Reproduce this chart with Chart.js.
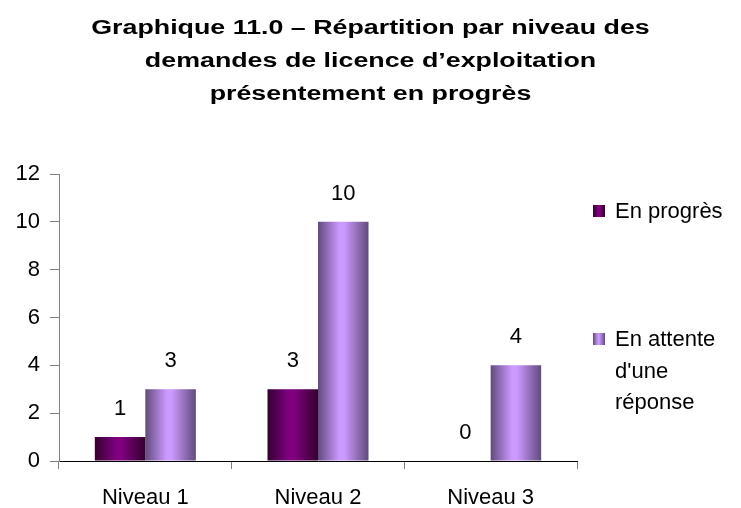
<!DOCTYPE html>
<html>
<head>
<meta charset="utf-8">
<script src="https://cdn.jsdelivr.net/npm/chart.js@4"></script>
<style>
  html, body { margin: 0; padding: 0; background: #fff; }
  #chart { display: block; }
</style>
</head>
<body>
<canvas id="chart" width="741" height="508"></canvas>
<script>
// data
const categories = ["Niveau 1", "Niveau 2", "Niveau 3"];
const enProgres = [1, 3, 0];
const enAttente = [3, 10, 4];
const seriesNames = ["En progrès", "En attente d'une réponse"];
const legendLines = [["En progrès"], ["En attente", "d'une", "réponse"]];
const titleLines = [
  "Graphique 11.0 – Répartition par niveau des",
  "demandes de licence d’exploitation",
  "présentement en progrès"
];

const FONT = "'Liberation Sans', Arial, sans-serif";

// edge / middle colours for the shaded bars
const shades = [
  { edge: "#34002f", mid: "#800080" },
  { edge: "#614a7c", mid: "#cc99ff" }
];

function barGradient(ctx, left, right, s) {
  const g = ctx.createLinearGradient(left, 0, right, 0);
  g.addColorStop(0, s.edge);
  g.addColorStop(0.42, s.mid);
  g.addColorStop(0.52, s.mid);
  g.addColorStop(1, s.edge);
  return g;
}

// shade every bar with a horizontal gradient
const shadePlugin = {
  id: "shade",
  beforeDatasetDraw(chart, args) {
    const ctx = chart.ctx;
    const s = shades[args.index];
    args.meta.data.forEach((bar) => {
      const left = bar.x - bar.width / 2;
      const right = bar.x + bar.width / 2;
      bar.options = Object.assign({}, bar.options, {
        backgroundColor: barGradient(ctx, left, right, s)
      });
    });
  }
};

// the title in the picture is drawn wide, stretch it a bit
const wideTitle = {
  id: "wideTitle",
  beforeDraw(chart) {
    const tb = chart.titleBlock;
    if (!tb || tb._wide) return;
    const orig = tb.draw;
    tb.draw = function () {
      const ctx = chart.ctx;
      const cx = chart.width / 2;
      ctx.save();
      ctx.translate(cx, 0);
      ctx.scale(1.34, 1);
      ctx.translate(-cx, 0);
      orig.apply(this, arguments);
      ctx.restore();
    };
    tb._wide = true;
  }
};

// value labels above the bars
const valuePlugin = {
  id: "values",
  afterDatasetsDraw(chart) {
    const ctx = chart.ctx;
    ctx.save();
    ctx.font = "22px " + FONT;
    ctx.fillStyle = "#000";
    ctx.textAlign = "center";
    ctx.textBaseline = "middle";
    chart.data.datasets.forEach((ds, di) => {
      chart.getDatasetMeta(di).data.forEach((bar, i) => {
        ctx.fillText(String(ds.data[i]), bar.x, bar.y - 28);
      });
    });
    ctx.restore();
  }
};

// legend on the right, with the wrapped second label
const legendPlugin = {
  id: "sideLegend",
  afterDraw(chart) {
    const ctx = chart.ctx;
    const tops = [211, 339];
    ctx.save();
    ctx.font = "22px " + FONT;
    ctx.textBaseline = "middle";
    legendLines.forEach((lines, i) => {
      const y = tops[i];
      ctx.fillStyle = barGradient(ctx, 593, 605, shades[i]);
      ctx.fillRect(593, y - 6, 12, 12);
      ctx.fillStyle = "#000";
      lines.forEach((t, k) => ctx.fillText(t, 615, y + 1 + k * 31.5));
    });
    ctx.restore();
  }
};

const data = {
  labels: categories,
  datasets: [
    { label: seriesNames[0], data: enProgres, backgroundColor: shades[0].mid },
    { label: seriesNames[1], data: enAttente, backgroundColor: shades[1].mid }
  ]
};

const config = {
  type: "bar",
  data,
  options: {
    responsive: false,
    animation: false,
    events: [],
    layout: { padding: 0 },
    datasets: {
      bar: { categoryPercentage: 0.585, barPercentage: 1, borderWidth: 0 }
    },
    plugins: {
      legend: { display: false },
      tooltip: { enabled: false },
      title: {
        display: true,
        text: titleLines,
        color: "#000",
        font: { family: FONT, size: 20, weight: "bold", lineHeight: 1.65 },
        padding: { top: 12, bottom: 63 }
      }
    },
    scales: {
      x: {
        offset: true,
        afterFit(scale) { scale.height = 47; },
        grid: {
          offset: true,
          drawOnChartArea: false,
          drawTicks: true,
          tickLength: 8,
          color: "#808080"
        },
        border: { display: true, color: "#000", width: 1 },
        ticks: {
          color: "#000",
          font: { family: FONT, size: 22, lineHeight: 1 },
          padding: 18
        }
      },
      y: {
        min: 0,
        max: 12,
        afterFit(scale) { scale.width = 59; },
        grid: {
          drawOnChartArea: false,
          drawTicks: true,
          tickLength: 9,
          color: "#808080"
        },
        border: { display: true, color: "#808080", width: 1 },
        ticks: {
          stepSize: 2,
          color: "#000",
          font: { family: FONT, size: 22 },
          padding: 10
        }
      },
      // empty box that keeps the right side free for the legend
      side: {
        type: "linear",
        position: "right",
        afterFit(scale) { scale.width = 164; },
        grid: { display: false },
        border: { display: false },
        ticks: { display: false }
      }
    }
  },
  plugins: [shadePlugin, wideTitle, valuePlugin, legendPlugin]
};

var myChart = new Chart(document.getElementById("chart"), config);
</script>
</body>
</html>
